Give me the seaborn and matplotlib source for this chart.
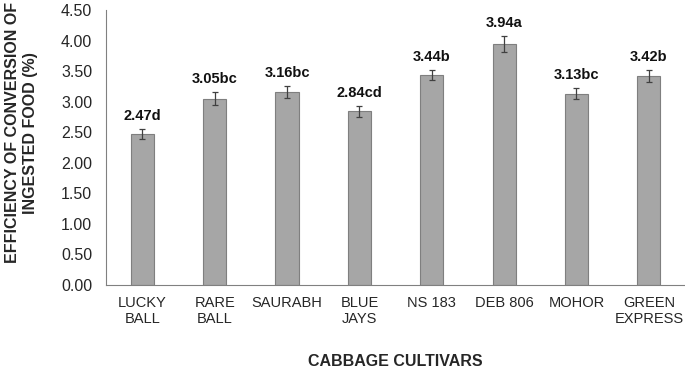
import numpy as np
import pandas as pd
import matplotlib
matplotlib.use("Agg")
import matplotlib.pyplot as plt
import seaborn as sns

# data
cultivars = ["LUCKY\nBALL", "RARE\nBALL", "SAURABH", "BLUE\nJAYS", "NS 183", "DEB 806", "MOHOR", "GREEN\nEXPRESS"]
efficiency = [2.47, 3.05, 3.16, 2.84, 3.44, 3.94, 3.13, 3.42]
std_err = [0.08, 0.10, 0.10, 0.09, 0.08, 0.13, 0.09, 0.10]
letters = ["d", "bc", "bc", "cd", "b", "a", "bc", "b"]

sns.set_style("white")
plt.rcParams["font.family"] = ["Liberation Sans", "DejaVu Sans"]

df = pd.DataFrame({"cultivar": cultivars, "eff": efficiency})

fig = plt.figure(figsize=(6.85, 3.69), dpi=100)
ax = fig.add_axes([0.155, 0.228, 0.845, 0.745])

sns.barplot(data=df, x="cultivar", y="eff", ax=ax, color="#a6a6a6",
            edgecolor="#7f7f7f", linewidth=0.8, width=0.32, saturation=1,
            errorbar=None)

xs = np.arange(len(cultivars))
ax.errorbar(xs, efficiency, yerr=std_err, fmt="none", ecolor="#404040",
            elinewidth=0.9, capsize=2.5, capthick=0.9)

for x, v, e, l in zip(xs, efficiency, std_err, letters):
    ax.text(x, v + e + 0.1, f"{v:.2f}{l}", ha="center", va="bottom",
            fontsize=10.5, fontweight="bold", color="#111111")

ax.set_ylim(0, 4.5)
ax.set_xlim(-0.5, len(cultivars) - 0.5)
ax.set_yticks(np.arange(0, 4.51, 0.5))
ax.set_yticklabels([f"{t:.2f}" for t in np.arange(0, 4.51, 0.5)], fontsize=11.5)
ax.tick_params(axis="x", labelsize=10.5, length=0, pad=8)
ax.tick_params(axis="y", length=0, pad=10)
ax.set_xlabel("CABBAGE CULTIVARS", fontsize=11.5, fontweight="bold", labelpad=20)
ax.set_ylabel("EFFICIENCY OF CONVERSION OF\nINGESTED FOOD (%)", fontsize=11.5,
              fontweight="bold", linespacing=1.25)
ax.yaxis.set_label_coords(-0.117, 0.553)

sns.despine(ax=ax)
for s in ["left", "bottom"]:
    ax.spines[s].set_color("#808080")
    ax.spines[s].set_linewidth(0.8)

fig.savefig("out.png", dpi=100)
